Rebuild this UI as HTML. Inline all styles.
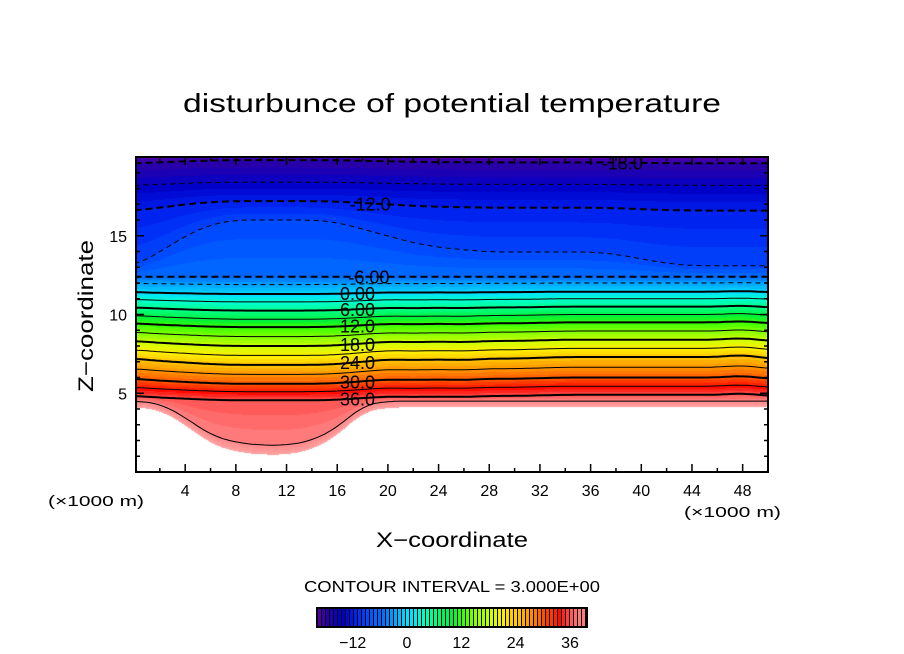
<!DOCTYPE html>
<html><head><meta charset="utf-8">
<style>
html,body{margin:0;padding:0;background:#fff;}
#wrap{position:relative;width:904px;height:654px;overflow:hidden;font-family:"Liberation Sans",sans-serif;}
canvas,svg{position:absolute;left:0;top:0;}
</style></head>
<body>
<div id="wrap">
<canvas id="cv" width="904" height="654"></canvas>
<svg id="sv" width="904" height="654" xmlns="http://www.w3.org/2000/svg"></svg>
</div>
<script>
// ---- data ----
const levels = [-21,-18,-15,-12,-9,-6,-3,0,3,6,9,12,15,18,21,24,27,30,33,36,39,42,45];
const rightHeights = [20.3,19.6,18.2,16.6,13.1,12.4,12.0,11.45,11.0,10.5,10.0,9.5,8.95,8.4,7.85,7.3,6.65,6.0,5.45,4.9,4.5,4.1,-1];
const leftHeights  = [20.4,19.8,18.4,17.2,16.0,12.4,11.9,11.3,10.8,10.25,9.7,9.2,8.6,8.0,7.4,6.8,6.2,5.6,5.1,4.55,1.7,1.1,-1];
const xCols = [0,2,4,6,8,10,12,14,16,18,20,22,24,26,28,30,32,34,36,38,40,42,44,46,48,50];
const wUpper  = [0,0.3,0.65,0.9,1,1,1,1,0.95,0.8,0.65,0.5,0.4,0.35,0.3,0.3,0.3,0.3,0.3,0.25,0.15,0.05,0,0,0,0];
const wMain   = [0.2,0.5,0.7,0.9,1,1,1,1,0.9,0.6,0.3,0.4,0.3,0.4,0.2,0.2,0.1,0,0,0,0,0,0,0,-0.3,0.2];
const wBubble = [0,0.05,0.37,0.77,0.94,1,1,0.9,0.6,0.1,0,0,0,0,0,0,0,0,0,0,0,0,0,0,0,0];
const xTicks = [4,8,12,16,20,24,28,32,36,40,44,48];
const yTicks = [5,10,15];
const cbTicks = [-12,0,12,24,36];
const labelLevels = [-18,-12,-6,0,6,12,18,24,30,36];
const labelText = ["-18.0","-12.0","-6.00","0.00","6.00","12.0","18.0","24.0","30.0","36.0"];
const labelX = [38.5,18.6,18.5,17.6,17.6,17.6,17.6,17.6,17.6,17.6];
const cmapV = [-21,-18,-15,-12,-9,-6,-3,0,3,6,9,12,15,18,21,24,27,30,33,36,39,42];
const cmapC = [[100,0,170],[40,0,170],[0,0,200],[0,35,240],[0,75,255],[0,115,255],[0,170,255],[0,225,255],[0,255,200],[0,255,130],[0,240,60],[60,255,0],[140,255,0],[210,255,0],[255,235,0],[255,190,0],[255,140,0],[255,80,0],[255,10,0],[255,90,90],[255,140,140],[255,165,165]];

// ---- axes ----
const X0=136,X1=768,Y0=157,Y1=472;
const xs = v => 134.5 + v*(X1-134.5)/50;
const ys = v => Y1 - v*(Y1-Y0)/20;
const NS="http://www.w3.org/2000/svg";
const sv=document.getElementById('sv');
function mk(tag,attrs,parent){const e=document.createElementNS(NS,tag);for(const k in attrs)e.setAttribute(k,attrs[k]);(parent||sv).appendChild(e);return e;}

// linear interpolation of column weights, lightly smoothed by averaging neighbours
function interpLin(arr,x){
  if(x<=xCols[0])return arr[0];
  for(let i=0;i<xCols.length-1;i++){if(x<=xCols[i+1]){const t=(x-xCols[i])/(xCols[i+1]-xCols[i]);return arr[i]+(arr[i+1]-arr[i])*t;}}
  return arr[arr.length-1];
}
function interpW(arr,x){
  const d=[-1,-0.5,0,0.5,1];let s=0;
  d.forEach(o=>{s+=interpLin(arr,Math.min(50,Math.max(0,x+o)));});
  return s/d.length;
}
function heightsAt(x){
  const wu=interpW(wUpper,x),wm=interpW(wMain,x),wb=interpW(wBubble,x);
  return levels.map((lv,i)=>{
    const w = lv<=-9 ? wu : (lv>=39 ? wb : wm);
    return w*leftHeights[i]+(1-w)*rightHeights[i];
  });
}
function valueAt(h,z){
  if(z>=h[0])return levels[0]-1;
  for(let i=0;i<h.length-1;i++){
    if(z<=h[i]&&z>=h[i+1]){const t=(h[i]-z)/(h[i]-h[i+1]||1);return levels[i]+t*(levels[i+1]-levels[i]);}
  }
  return 46;
}
function colorOf(v){
  if(v>=42||v<-21.5)return null;
  v=Math.floor(v);
  if(v<=cmapV[0])return cmapC[0];
  for(let i=0;i<cmapV.length-1;i++){if(v<cmapV[i+1]){const t=(v-cmapV[i])/(cmapV[i+1]-cmapV[i]);const a=cmapC[i],b=cmapC[i+1];return [a[0]+(b[0]-a[0])*t,a[1]+(b[1]-a[1])*t,a[2]+(b[2]-a[2])*t];}}
  return cmapC[cmapC.length-1];
}

// fill
const ctx=document.getElementById('cv').getContext('2d');
const img=ctx.createImageData(X1-X0,Y1-Y0);
for(let px=X0;px<X1;px++){
  const x=(px+0.5-134.5)*50/(X1-134.5);
  const h=heightsAt(x);
  for(let py=Y0;py<Y1;py++){
    const z=(Y1-(py+0.5))*20/(Y1-Y0);
    const c=colorOf(valueAt(h,z));
    const o=((py-Y0)*(X1-X0)+(px-X0))*4;
    if(c){img.data[o]=c[0];img.data[o+1]=c[1];img.data[o+2]=c[2];}else{img.data[o]=255;img.data[o+1]=255;img.data[o+2]=255;}
    img.data[o+3]=255;
  }
}
ctx.putImageData(img,X0,Y0);

// contour lines
const clip=mk('clipPath',{id:'pc'});mk('rect',{x:X0,y:Y0,width:X1-X0,height:Y1-Y0},clip);
const gl=mk('g',{'clip-path':'url(#pc)'});


levels.forEach((lv,i)=>{
  if(lv<-18||lv>39)return;
  let d='';
  for(let x=0;x<=50.001;x+=0.25){const h=heightsAt(x);d+=(x===0?'M':'L')+xs(x).toFixed(1)+','+ys(h[i]).toFixed(1);}
  const thick=(lv%6===0);
  const p=mk('path',{d:d,fill:'none',stroke:'#000','stroke-width':thick?2:1,'stroke-dasharray':lv<0?(thick?'7,4':'5,4'):'none'},gl);
  
  
});
labelLevels.forEach((lv,k)=>{
  const i=levels.indexOf(lv);const h=heightsAt(labelX[k]);
  const t=mk('text',{x:xs(labelX[k]),y:ys(h[i])+7,'font-size':18,'text-anchor':'middle',fill:'#000'},gl);
  t.textContent=labelText[k];
  
  
});

// frame & ticks
const fr=mk('rect',{x:X0,y:Y0,width:X1-X0,height:Y1-Y0,fill:'none',stroke:'#000','stroke-width':2});

let td='';
for(let v=2;v<50;v+=2){const L=(v%4===0)?8:4;const x=xs(v);td+=`M${x},${Y1}v${-L}M${x},${Y0}v${L}`;}
for(let v=1;v<20;v++){const L=(v%5===0)?8:4;const y=ys(v);td+=`M${X0},${y}h${L}M${X1},${y}h${-L}`;}
const tk=mk('path',{d:td,stroke:'#000','stroke-width':1.5,fill:'none'});

xTicks.forEach(v=>{const t=mk('text',{x:xs(v),y:496,'font-size':16,'text-anchor':'middle'});t.textContent=v;
  });
yTicks.forEach(v=>{const t=mk('text',{x:127,y:ys(v)+6,'font-size':16,'text-anchor':'end'});t.textContent=v;
  });

function txt(s,a,name){const t=mk('text',a);t.textContent=s;return t;}
txt('disturbunce of potential temperature',{x:452,y:112,'font-size':26,'text-anchor':'middle',textLength:538,lengthAdjust:'spacingAndGlyphs'},'chart-title');
txt('X\u2212coordinate',{x:452,y:547,'font-size':21,'text-anchor':'middle',textLength:152,lengthAdjust:'spacingAndGlyphs'},'x-axis-title');
txt('Z\u2212coordinate',{x:0,y:0,'font-size':21,'text-anchor':'middle',textLength:152,lengthAdjust:'spacingAndGlyphs',transform:'translate(93,316) rotate(-90)'},'y-axis-title');
txt('(\u00d71000 m)',{x:48,y:506,'font-size':15,textLength:96,lengthAdjust:'spacingAndGlyphs'},'x-units-left');
txt('(\u00d71000 m)',{x:684,y:517,'font-size':15,textLength:97,lengthAdjust:'spacingAndGlyphs'},'x-units-right');
txt('CONTOUR INTERVAL = 3.000E+00',{x:452,y:592,'font-size':16,'text-anchor':'middle',textLength:296,lengthAdjust:'spacingAndGlyphs'},'contour-interval');

// colorbar
const CB0=316,CB1=588,cbs=v=>407+(v-0)*(570-407)/36;
const cb=mk('g',{});
mk('rect',{x:CB0,y:607,width:CB1-CB0,height:21,fill:'#000'},cb);
for(let px=CB0+2;px<CB1-2;px+=4){
  const v=(px+1.5-407)*36/(570-407);
  const c=colorOf(Math.min(v,41.9))||[255,165,165];
  const r=mk('rect',{x:px,y:609,width:3,height:17,fill:`rgb(${c.map(Math.round).join(',')})`},cb);
  
  
}
cbTicks.forEach(v=>{const t=mk('text',{x:cbs(v),y:648,'font-size':16,'text-anchor':'middle'});t.textContent=(v<0?'\u2212'+(-v):v);
  });
</script>
</body></html>
